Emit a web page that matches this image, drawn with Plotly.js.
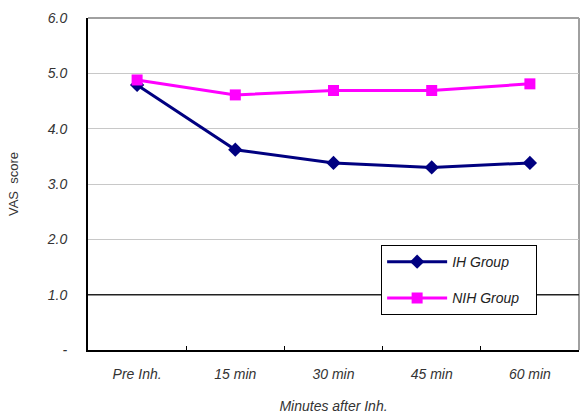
<!DOCTYPE html>
<html>
<head>
<meta charset="utf-8">
<script src="https://cdn.plot.ly/plotly-3.0.1.min.js"></script>
<style>html,body{margin:0;padding:0;background:#fff;}#chart{width:586px;height:414px;}</style>
</head>
<body>
<div id="chart"></div>
<script>
const categories = ["Pre Inh.", "15 min", "30 min", "45 min", "60 min"];
const ihGroup = [4.79, 3.62, 3.38, 3.30, 3.38];
const nihGroup = [4.88, 4.61, 4.69, 4.69, 4.81];
const yTickVals = [0, 1, 2, 3, 4, 5, 6];
const yTickText = ["-", "1.0", "2.0", "3.0", "4.0", "5.0", "6.0"];
const seriesNames = ["IH Group", "NIH Group"];

const fontFam = "Liberation Sans, Arial, sans-serif";

const traces = [
  {
    x: categories, y: ihGroup, name: "<i>" + seriesNames[0] + "</i>", type: "scatter", mode: "lines+markers",
    legendgroup: "a",
    line: {color: "#000080", width: 3},
    marker: {symbol: "diamond", size: 11, color: "#000080"}
  },
  {
    x: categories, y: nihGroup, name: "<i>" + seriesNames[1] + "</i>&nbsp;&nbsp;&nbsp;", type: "scatter", mode: "lines+markers",
    legendgroup: "b",
    line: {color: "#ff00ff", width: 3},
    marker: {symbol: "square", size: 11, color: "#ff00ff"}
  }
];

const layout = {
  width: 586, height: 414,
  margin: {l: 88, r: 7, t: 18, b: 64},
  paper_bgcolor: "#ffffff", plot_bgcolor: "#ffffff",
  font: {family: fontFam, size: 14, color: "#333333"},
  showlegend: true,
  legend: {
    x: 0.597, y: 0.316, xanchor: "left", yanchor: "top",
    bordercolor: "#000000", borderwidth: 1, bgcolor: "#ffffff",
    font: {family: fontFam, size: 14, color: "#222222"},
    traceorder: "grouped", tracegroupgap: 15,
    itemwidth: 60
  },
  xaxis: {
    type: "category",
    range: [-0.5, 4.5],
    showgrid: false,
    showline: true, linecolor: "#000000", linewidth: 2,
    ticks: "inside", tickson: "boundaries", ticklen: 4, tickcolor: "#000000",
    tickfont: {family: fontFam, size: 14, color: "#333333"},
    ticklabelstandoff: 10,
    tickprefix: "<i>", ticksuffix: "</i>",
    title: {text: "<i>Minutes after Inh.</i>", font: {family: fontFam, size: 14, color: "#333333"}, standoff: 24},
    mirror: false, zeroline: false, fixedrange: true
  },
  yaxis: {
    range: [0, 6],
    tickvals: yTickVals, ticktext: yTickText.map(t => "<i>" + t + "</i>"),
    showgrid: true, gridcolor: "#c8c8c8", gridwidth: 1,
    showline: true, linecolor: "#000000", linewidth: 2,
    ticks: "", ticklabelstandoff: 16,
    tickfont: {family: fontFam, size: 14, color: "#333333"},
    title: {text: "VAS&nbsp; score", font: {family: fontFam, size: 13, color: "#333333"}, standoff: 25},
    zeroline: false, fixedrange: true
  },
  shapes: [
    {type: "line", xref: "paper", yref: "y", x0: 0, x1: 1, y0: 1, y1: 1, line: {color: "#222222", width: 1.5}, layer: "above"},
    {type: "line", xref: "paper", yref: "paper", x0: 1, x1: 1, y0: 0, y1: 1, line: {color: "#a0a0a0", width: 2}, layer: "below"},
    {type: "line", xref: "paper", yref: "paper", x0: 0, x1: 1, y0: 1, y1: 1, line: {color: "#a0a0a0", width: 2}, layer: "below"}
  ]
};

Plotly.newPlot("chart", traces, layout, {displayModeBar: false, staticPlot: true});
</script>
</body>
</html>
